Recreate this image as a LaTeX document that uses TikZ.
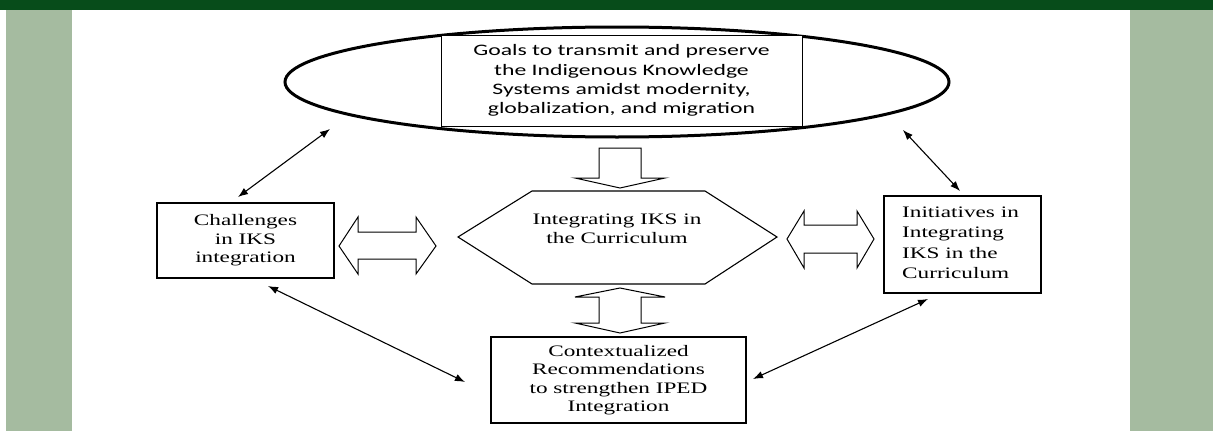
\documentclass[tikz,border=0pt]{standalone}
\usepackage{fontspec}
\setmainfont{Liberation Serif}
\newfontfamily\serifw{Liberation Serif}[FakeStretch=1.45]
\newfontfamily\sansw{Carlito}[FakeStretch=1.48]
\usetikzlibrary{arrows.meta,shapes.geometric}
\definecolor{bandgreen}{HTML}{074C1A}
\definecolor{panelgreen}{HTML}{A5BBA0}
\tikzset{
  boxnode/.style={draw=black, line width=1.2pt, fill=white, inner sep=0pt, align=center},
  serift/.style={font=\serifw\fontsize{16}{18.5}\selectfont},
  thinarrow/.style={line width=1.1pt, {Latex[length=10pt,width=7.5pt]}-{Latex[length=10pt,width=7.5pt]}},
  blockarrow/.style={draw=black, line width=1pt, fill=white, line join=miter},
}
\begin{document}
\begin{tikzpicture}[x=1pt,y=-1pt]
\useasboundingbox (0,0) rectangle (1213,431);
\fill[white] (0,0) rectangle (1213,431);
\fill[bandgreen] (0,0) rectangle (1213,10);
\fill[panelgreen] (6,10) rectangle (72,431);
\fill[panelgreen] (1130,10) rectangle (1213,431);

% top ellipse and goals box
\node[ellipse, draw=black, line width=3pt, minimum width=664pt, minimum height=110pt, inner sep=0pt] (ell) at (617,82) {};
\node[boxnode, line width=1pt, minimum width=361pt, minimum height=91pt, font=\sansw\fontsize{16}{19.3}\selectfont] (goals) at (621.5,80.5)
  {Goals to transmit and preserve\\the Indigenous Knowledge\\Systems amidst modernity,\\globalization, and migration};

% hexagon
\draw[black, line width=1.1pt, fill=white] (458,237) -- (532,191) -- (705,191) -- (777,237) -- (705,284) -- (532,284) -- cycle;
\node[serift, align=center] (hex) at (617,229) {Integrating IKS in\\the Curriculum};

% side boxes
\node[boxnode, serift, minimum width=177pt, minimum height=75pt] (chal) at (245.5,240.5)
  {Challenges\\in IKS\\integration};
\node[boxnode, minimum width=157pt, minimum height=97pt] (init) at (962.5,244.5) {};
\node[serift, font=\serifw\fontsize{16}{20.5}\selectfont, align=left, anchor=west, inner sep=0pt] (initt) at (902,243)
  {Initiatives in\\Integrating\\IKS in the\\Curriculum};
\node[boxnode, serift, minimum width=255pt, minimum height=86pt] (rec) at (618.5,380)
  {Contextualized\\Recommendations\\to strengthen IPED\\Integration};

% block arrows
\draw[blockarrow] (339,246) -- (358,217) -- (358,232) -- (416,232) -- (416,217) -- (436,246) -- (416,274) -- (416,259) -- (358,259) -- (358,274) -- cycle;
\draw[blockarrow] (787,239) -- (804,211) -- (804,225) -- (857,225) -- (857,211) -- (874,239) -- (857,268) -- (857,253) -- (804,253) -- (804,268) -- cycle;
\draw[blockarrow] (599,148) -- (641,148) -- (641,178) -- (665,178) -- (620,188) -- (575,178) -- (599,178) -- cycle;
\draw[blockarrow] (620,288) -- (665,297) -- (641,297) -- (641,323) -- (665,323) -- (620,333) -- (575,323) -- (599,323) -- (599,297) -- (575,297) -- cycle;

% thin connectors
\coordinate (la1) at (238,197);
\coordinate (la2) at (330,129);
\coordinate (ra1) at (903,130);
\coordinate (ra2) at (960,191);
\coordinate (lb1) at (268,286);
\coordinate (lb2) at (465,382);
\coordinate (rb1) at (928,299);
\coordinate (rb2) at (753,379);
\draw[thinarrow] (la1) -- (la2);
\draw[thinarrow] (ra1) -- (ra2);
\draw[thinarrow] (lb1) -- (lb2);
\draw[thinarrow] (rb1) -- (rb2);
\end{tikzpicture}
\end{document}
